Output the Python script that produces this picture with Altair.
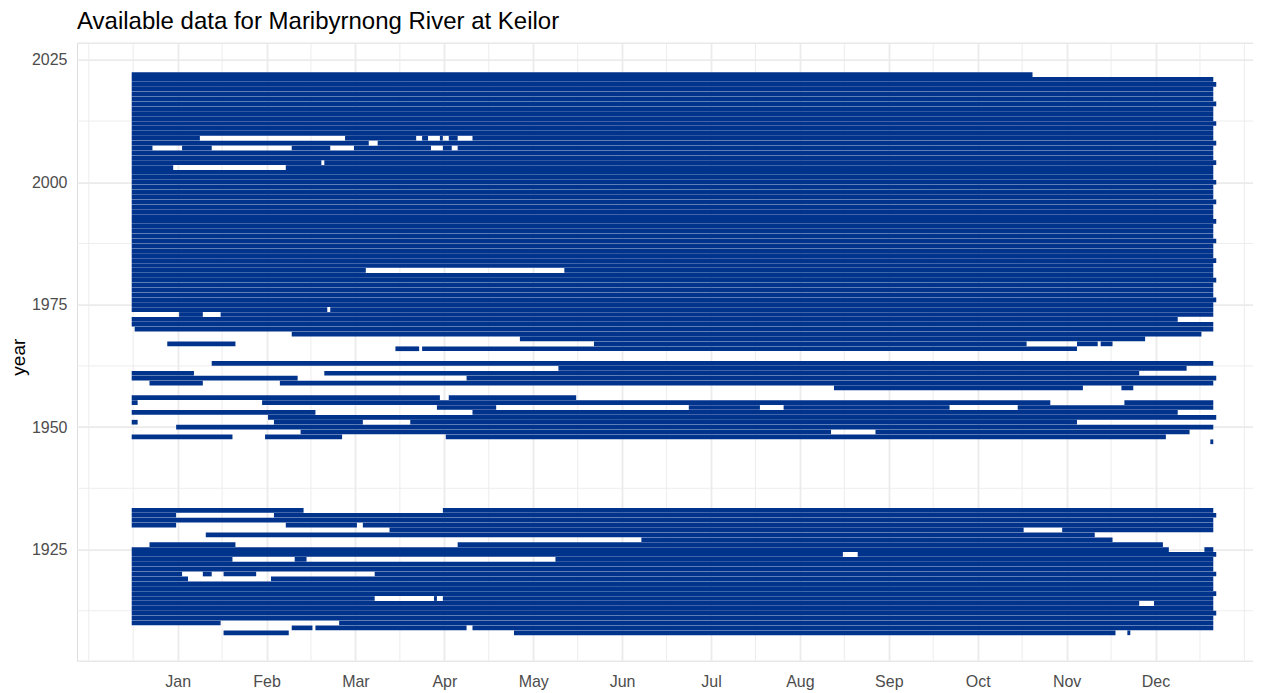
import json
import altair as alt
import pandas as pd

TITLE = "Available data for Maribyrnong River at Keilor"
month_names = ["Jan", "Feb", "Mar", "Apr", "May", "Jun",
               "Jul", "Aug", "Sep", "Oct", "Nov", "Dec"]
month_ticks = [15.5, 45.5, 75.5, 105.5, 135.5, 165.5,
               195.5, 225.5, 255.5, 285.5, 315.5, 345.5]
x_minor = [-14.5, 0.5, 30.5, 60.5, 90.5, 120.5, 150.5, 180.5,
           210.5, 240.5, 270.5, 300.5, 330.5, 360.5, 375.5]
y_major = [1925, 1950, 1975, 2000, 2025]
y_minor = [1912.5, 1937.5, 1962.5, 1987.5, 2012.5]

# day-of-year segments (start day index, end day index) with records per year
row_year = [2022, 2021, 2020, 2019, 2018, 2017, 2016, 2015, 2014, 2013,
            2012, 2011, 2010, 2009, 2008, 2007, 2006, 2005, 2004, 2003,
            2002, 2001, 2000, 1999, 1998, 1997, 1996, 1995, 1994, 1993,
            1992, 1991, 1990, 1989, 1988, 1987, 1986, 1985, 1984, 1983,
            1982, 1981, 1980, 1979, 1978, 1977, 1976, 1975, 1974, 1973,
            1972, 1971, 1970, 1969, 1968, 1967, 1966, 1963, 1962, 1961,
            1960, 1959, 1958, 1956, 1955, 1954, 1953, 1952, 1951, 1950,
            1949, 1948, 1947,
            1933, 1932, 1931, 1930, 1929, 1928, 1927, 1926, 1925, 1924,
            1923, 1922, 1921, 1920, 1919, 1918, 1917, 1916, 1915, 1914,
            1913, 1912, 1911, 1910, 1909, 1908]

row_start = [
    [0], [0], [0], [0], [0], [0], [0], [0], [0], [0],                    # 2022-2013
    [0], [0], [0], [0, 72, 98, 104, 107, 115], [0, 83],                  # 2012-2008
    [0, 17, 54, 75, 105, 110], [0], [0], [0, 65], [0, 52],               # 2007-2003
    [0], [0], [0], [0], [0], [0], [0], [0], [0], [0],                    # 2002-1993
    [0], [0], [0], [0], [0], [0], [0], [0], [0], [0],                    # 1992-1983
    [0, 146], [0], [0], [0], [0], [0], [0], [0], [0, 67], [16, 30],      # 1982-1973
    [0], [0], [1], [54], [131], [12, 156, 319, 327], [89, 98], [27],     # 1972-1963
    [144], [0, 65],                                                      # 1962-1961
    [0, 113], [6, 50], [237, 334], [0, 107], [0, 44, 335],               # 1960-1955
    [103, 188, 220, 299], [0, 115], [46], [0, 48, 94], [15],             # 1954-1950
    [57, 251], [0, 45, 106], [364],                                      # 1949-1947
    [0, 105], [0, 48], [0], [0, 52, 78], [87, 314], [25], [172],         # 1933-1927
    [6, 110], [0, 362], [0, 245],                                        # 1926-1924
    [0, 55, 143], [0], [0], [0, 24, 31, 82], [0, 47], [0], [0], [0],     # 1923-1916
    [0, 102, 105], [0, 345], [0], [0], [0], [0, 70], [54, 62, 115],      # 1915-1909
    [31, 129, 336],                                                      # 1908
]
row_end = [
    [304], [365], [366], [365], [365], [365], [366], [365], [365], [365],
    [366], [365], [365], [23, 96, 100, 105, 110, 365], [80, 366],
    [7, 27, 67, 101, 108, 365], [365], [365], [64, 366], [14, 365],
    [365], [365], [366], [365], [365], [365], [366], [365], [365], [365],
    [366], [365], [365], [365], [366], [365], [365], [365], [366], [365],
    [79, 365], [365], [366], [365], [365], [365], [366], [365], [66, 365], [24, 365],
    [353], [365], [365], [361], [342], [35, 302, 326, 331], [97, 319], [365],
    [356], [21, 340],
    [56, 366], [24, 365], [321, 338], [104, 150], [2, 310, 365],
    [123, 212, 276, 365], [62, 353], [366], [2, 78, 319], [365],
    [236, 357], [34, 71, 349], [365],
    [58, 365], [15, 366], [365], [15, 76, 365], [301, 365], [325], [331],
    [35, 348], [350, 365], [240, 366],
    [34, 59, 365], [365], [365], [17, 27, 42, 366], [19, 365], [365], [365], [366],
    [82, 103, 365], [340, 365], [365], [366], [365], [30, 365], [61, 113, 365],
    [53, 332, 337],
]

records = []
for yr, ss, ee in zip(row_year, row_start, row_end):
    for s, e in zip(ss, ee):
        records.append({"year": yr, "start": s, "end": e})
bars = pd.DataFrame(records)
xgrid = pd.DataFrame({"start": x_minor})
ygrid = pd.DataFrame({"year": y_minor})

FONT = "Liberation Sans"
GRID = "#EBEBEB"
NAVY = "#00338C"
X_DOM = [-18.46, 378.4]
Y_DOM = [1902.3, 2028.5]

x_scale = alt.Scale(domain=X_DOM, nice=False, zero=False)
y_scale = alt.Scale(domain=Y_DOM, nice=False, zero=False)

label_expr = json.dumps(month_names) + "[round((datum.value - 15.5) / 30)]"

x_axis = alt.Axis(values=month_ticks, labelExpr=label_expr, grid=True,
                  gridColor=GRID, gridWidth=1.8, domain=False, ticks=False,
                  tickSize=0, labelColor="#4D4D4D", labelFont=FONT,
                  labelFontSize=16, labelPadding=12.5, labelBaseline="top",
                  title=None)
y_axis = alt.Axis(values=y_major, format="d", grid=True, gridColor=GRID,
                  gridWidth=1.8, domain=False, ticks=False, tickSize=0,
                  labelColor="#4D4D4D", labelFont=FONT, labelFontSize=16,
                  labelPadding=10, title="year", titleFont=FONT,
                  titleFontSize=19, titleFontWeight="normal",
                  titleColor="black", titleX=-59, titleY=314,
                  titleBaseline="middle", titleAlign="center", titleAngle=270)

xminor_layer = alt.Chart(xgrid).mark_rule(color=GRID, strokeWidth=0.9).encode(
    x=alt.X("start:Q", scale=x_scale, axis=x_axis)
)
yminor_layer = alt.Chart(ygrid).mark_rule(color=GRID, strokeWidth=0.9).encode(
    y=alt.Y("year:Q", scale=y_scale, axis=y_axis)
)
bar_layer = alt.Chart(bars).mark_rule(color=NAVY, strokeWidth=4.7,
                                      strokeCap="butt").encode(
    x=alt.X("start:Q", scale=x_scale, axis=x_axis),
    x2="end:Q",
    y=alt.Y("year:Q", scale=y_scale, axis=y_axis),
)

chart = alt.layer(xminor_layer, yminor_layer, bar_layer).properties(
    width=1176,
    height=618,
    title=alt.TitleParams(TITLE, anchor="start", frame="group", fontSize=24,
                          font=FONT, fontWeight="normal", color="black",
                          baseline="alphabetic", offset=13.4, dy=24.5),
    autosize=alt.AutoSizeParams(type="none"),
    padding={"left": 69, "top": 34.7, "right": 0, "bottom": 36},
).configure_view(stroke=None).configure(background="white")

chart.save("out.html", embed_options={"renderer": "svg", "actions": False})
